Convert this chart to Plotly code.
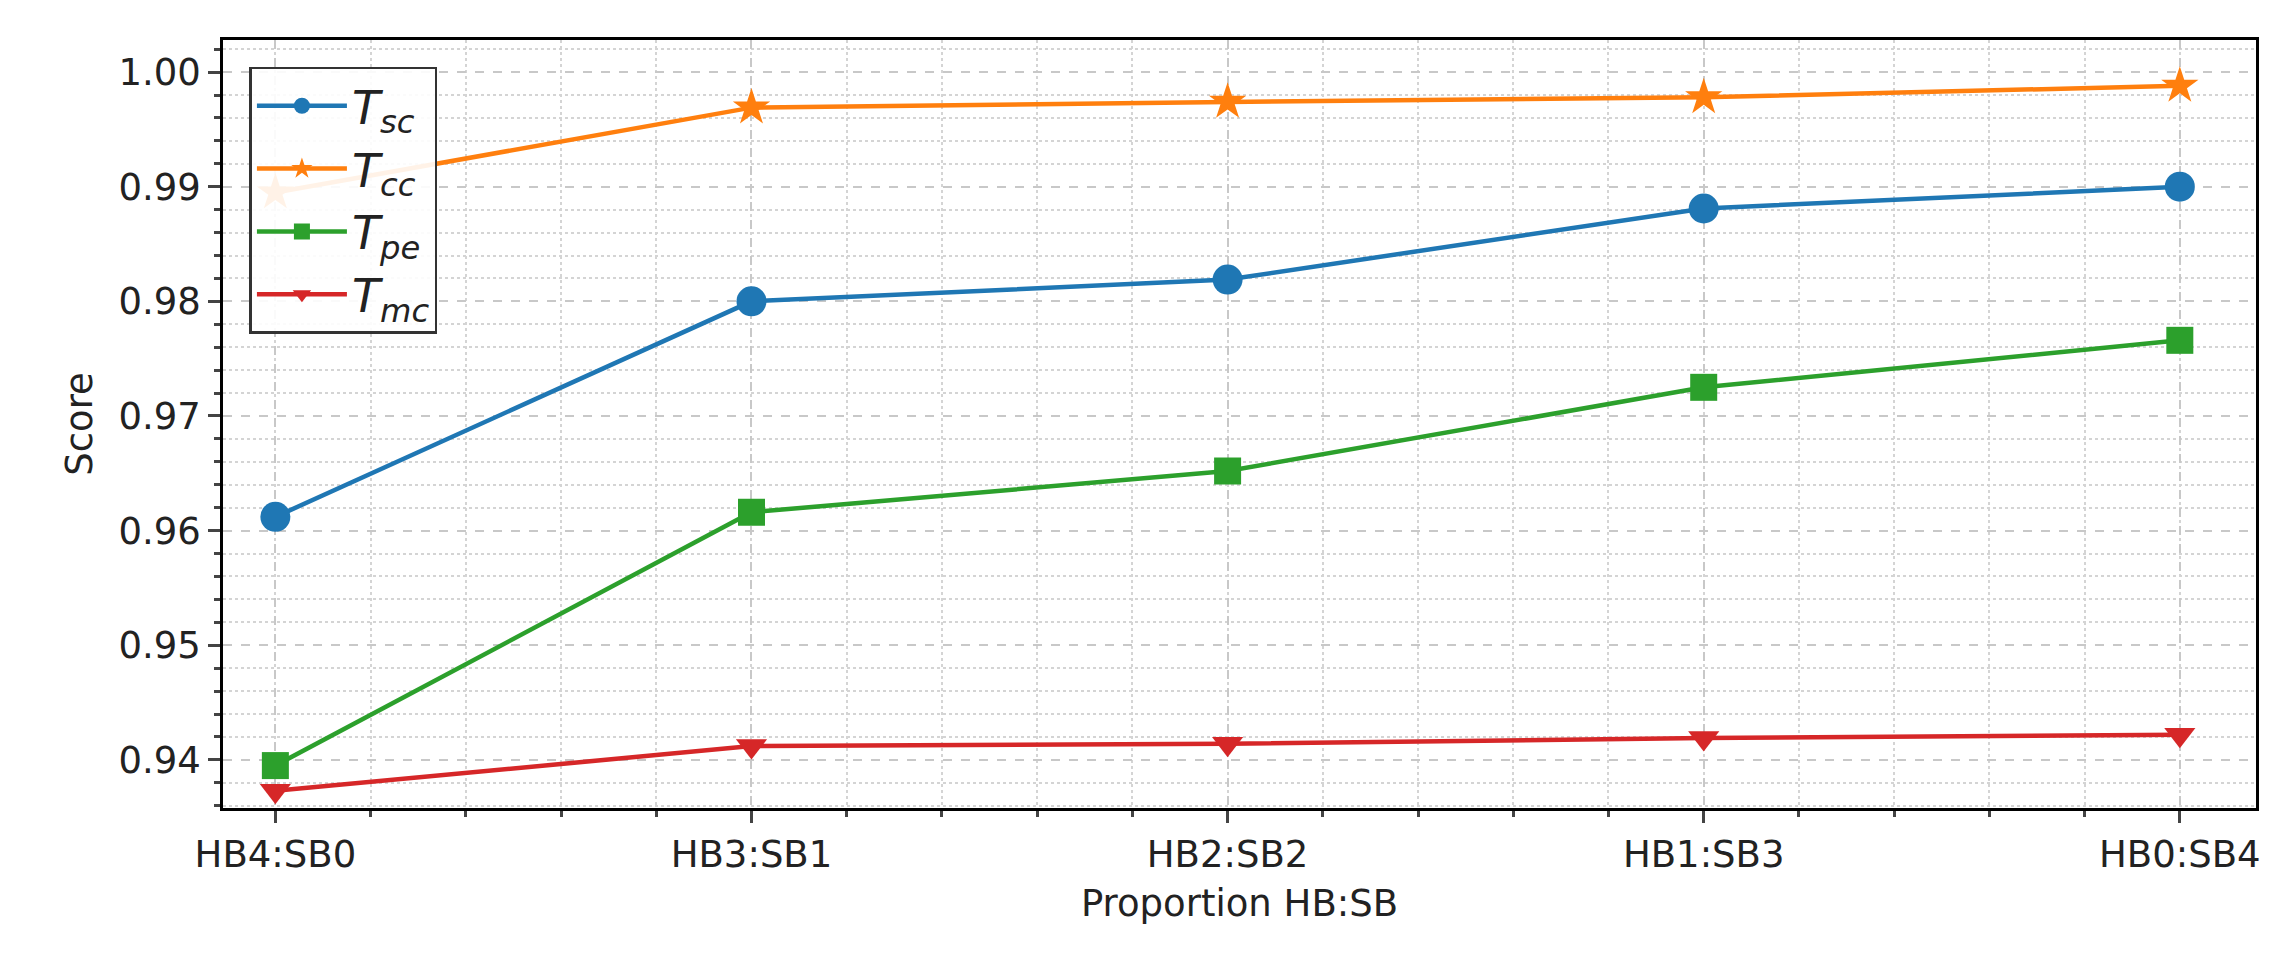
import plotly.graph_objects as go

categories = ["HB4:SB0", "HB3:SB1", "HB2:SB2", "HB1:SB3", "HB0:SB4"]
t_sc = [0.9612, 0.9800, 0.9819, 0.9881, 0.9900]
t_cc = [0.9895, 0.9969, 0.9974, 0.9978, 0.9988]
t_pe = [0.9395, 0.9616, 0.9652, 0.9725, 0.9766]
t_mc = [0.9373, 0.9412, 0.9414, 0.9419, 0.9422]

series = [
    ("<i>T<sub>sc</sub></i>", t_sc, "#1f77b4", "circle", 30),
    ("<i>T<sub>cc</sub></i>", t_cc, "#ff7f0e", "star", 28),
    ("<i>T<sub>pe</sub></i>", t_pe, "#2ca02c", "square", 27),
    ("<i>T<sub>mc</sub></i>", t_mc, "#d62728", "triangle-down", 27),
]
x = list(range(len(categories)))
fig = go.Figure()
for name, vals, col, sym, sz in series:
    fig.add_trace(go.Scatter(x=x, y=vals, name=name, mode="lines+markers",
                             line=dict(color=col, width=4.5),
                             marker=dict(symbol=sym, size=sz, color=col)))

fig.update_layout(
    width=2288, height=968, plot_bgcolor="white", paper_bgcolor="white",
    margin=dict(l=215, r=40, t=32, b=168),
    font=dict(family="DejaVu Sans", size=37, color="#222"),
    legend=dict(x=0.013, y=0.965, xanchor="left", yanchor="top",
                bordercolor="#333", borderwidth=2.5, bgcolor="rgba(255,255,255,0.9)",
                font=dict(size=46), tracegroupgap=18, itemwidth=90),
    showlegend=True,
)
fig.update_xaxes(range=[-0.11, 4.16], tickmode="array", tickvals=x, ticktext=categories,
                 title=dict(text="Proportion HB:SB", font=dict(size=37)),
                 showline=True, linecolor="black", linewidth=2.5, mirror=True,
                 ticks="outside", ticklen=12, tickwidth=2.5,
                 showgrid=True, gridcolor="#c8c8c8", griddash="dash", gridwidth=2,
                 zeroline=False,
                 minor=dict(dtick=0.2, ticks="outside", ticklen=6, showgrid=True,
                            gridcolor="#d4d4d4", griddash="dot", gridwidth=1.5))
fig.update_yaxes(range=[0.9358, 1.0028], tick0=0.94, dtick=0.01, tickformat=".2f",
                 title=dict(text="Score", font=dict(size=37)),
                 showline=True, linecolor="black", linewidth=2.5, mirror=True,
                 ticks="outside", ticklen=12, tickwidth=2.5,
                 showgrid=True, gridcolor="#c8c8c8", griddash="dash", gridwidth=2,
                 zeroline=False,
                 minor=dict(dtick=0.002, ticks="outside", ticklen=6, showgrid=True,
                            gridcolor="#d4d4d4", griddash="dot", gridwidth=1.5))
fig.write_html("out.html")
